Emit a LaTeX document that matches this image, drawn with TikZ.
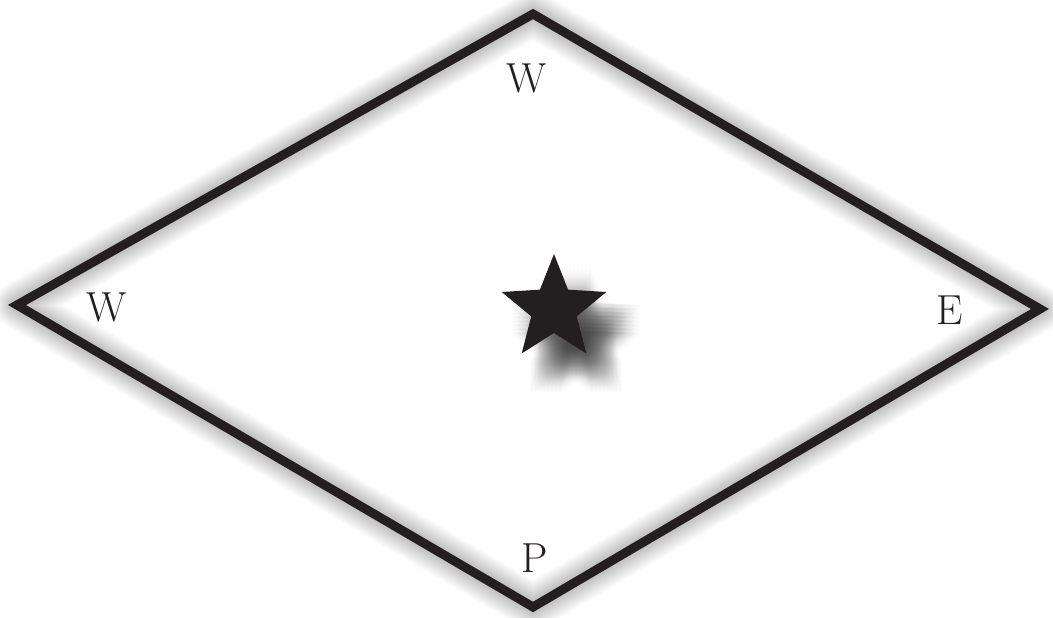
\documentclass[tikz,border=0pt]{standalone}
\usetikzlibrary{shapes.geometric}
\definecolor{ink}{HTML}{231F20}
\tikzset{
  edge/.style={draw=ink,line width=9pt,line join=miter,miter limit=20},
  lbl/.style={font=\fontsize{42}{46}\selectfont,text=ink,inner sep=0pt},
  starshape/.style={star,star points=5,star point ratio=2.3,inner sep=0pt,minimum size=#1},
}
\begin{document}
\begin{tikzpicture}[x=1pt,y=-1pt]
\useasboundingbox (0,0) rectangle (1053,618);
\fill[white] (0,0) rectangle (1053,618);
\coordinate (T) at (533,14);
\coordinate (L) at (17,305);
\coordinate (R) at (1040,309);
\coordinate (B) at (533,607);
% soft shadow of the frame
\foreach \w in {4,7,...,46}{
  \draw[black,opacity=0.018,line width=\w pt,line join=round,shift={(6,14)}] (T) -- (R) -- (B) -- (L) -- cycle;
}
% soft (blurred) shadow of the star
\foreach \dx in {-14,-10,...,14}{
  \foreach \dy in {-14,-10,...,14}{
    \node[starshape=110pt,fill=black,opacity=0.016] at (576+\dx,336+\dy) {};
  }
}
\draw[edge] (T) -- (R) -- (B) -- (L) -- cycle;
\node[starshape=110pt,fill=ink] (star) at (554,309) {};
\node[lbl] (wtop) at (527,78) {W};
\node[lbl] (wleft) at (107,307) {W};
\node[lbl] (e) at (950,310) {E};
\node[lbl] (p) at (535,558) {P};
\end{tikzpicture}
\end{document}
